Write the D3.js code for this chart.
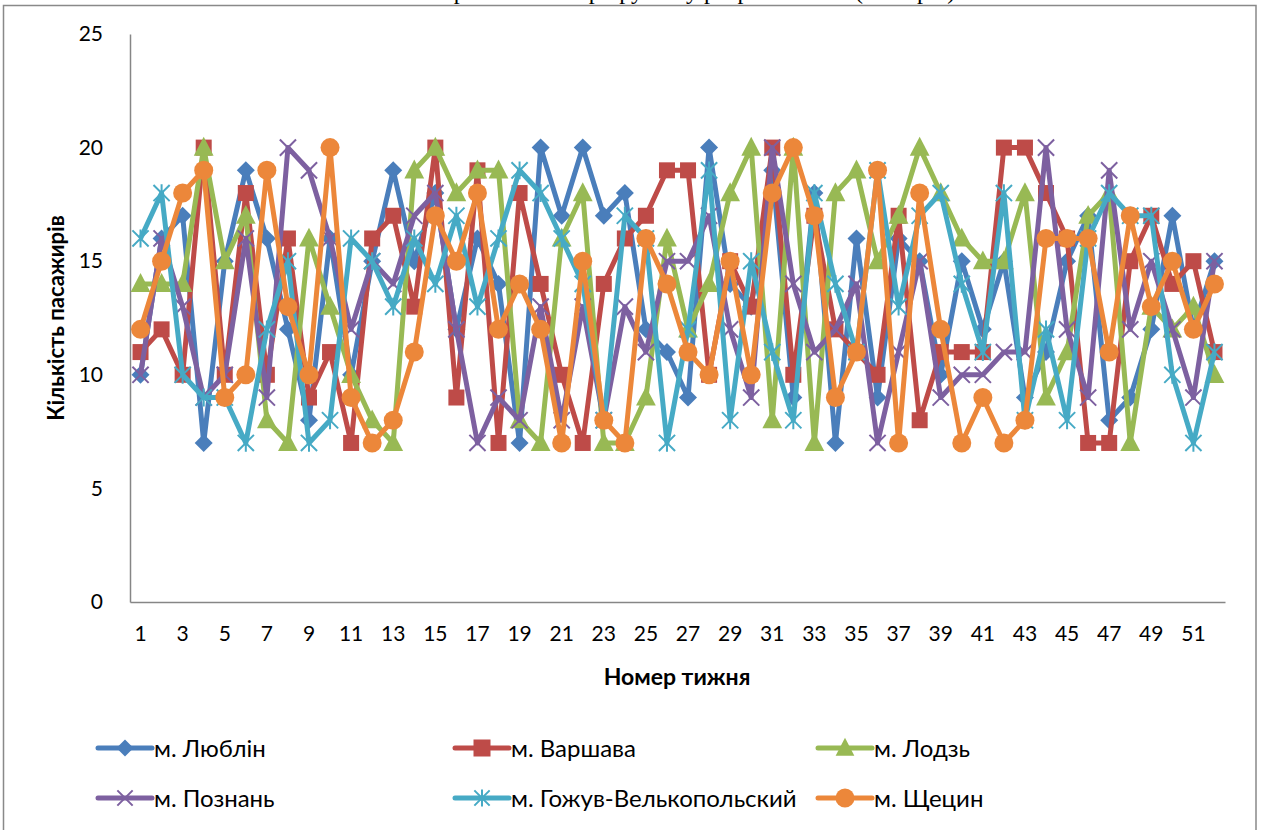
<!DOCTYPE html>
<html>
<head>
<meta charset="utf-8">
<script src="https://cdn.jsdelivr.net/npm/d3@7"></script>
<style>
  body { margin: 0; background: #fff; }
  text { font-family: Lato, "Open Sans", sans-serif; }
</style>
</head>
<body>
<script>
// weeks 1..52
var weeks = d3.range(1, 53);
var xTickLabels = d3.range(1, 53, 2);
var yTicks = [0, 5, 10, 15, 20, 25];

var names = ["м. Люблін", "м. Варшава", "м. Лодзь", "м. Познань", "м. Гожув-Велькопольский", "м. Щецин"];

var lublin = [10,16,17,7,15,19,16,12,8,16, 10,15,19,15,18,12,16,14,7,20, 17,20,17,18,12,11,9,20,14,13, 19,9,18,7,16,9,16,15,10,15, 12,15,9,11,15,17,8,9,12,17, 12,15];
var warsaw = [11,12,10,20,10,18,10,16,9,11, 7,16,17,13,20,9,19,7,18,14, 10,7,14,16,17,19,19,10,15,13, 20,10,17,12,11,10,17,8,11,11, 11,20,20,18,16,7,7,15,17,14, 15,11];
var lodz = [14,14,14,20,15,17,8,7,16,13, 10,8,7,19,20,18,19,19,8,7, 16,18,7,7,9,16,12,14,18,20, 8,20,7,18,19,15,17,20,18,16, 15,15,18,9,11,17,18,7,13,12, 13,10];
var poznan = [10,16,13,9,10,16,9,20,19,16, 12,15,14,17,18,12,7,9,8,13, 8,13,8,13,11,15,15,17,12,9, 20,14,11,12,14,7,11,15,9,10, 10,11,11,20,12,9,19,12,15,12, 9,15];
var gorzow = [16,18,10,9,9,7,12,15,7,8, 16,15,13,16,14,17,13,16,19,18, 16,14,8,17,16,7,12,19,8,15, 11,8,18,14,11,19,13,17,18,14, 11,18,8,12,8,16,18,17,17,10, 7,11];
var szczecin = [12,15,18,19,9,10,19,13,10,20, 9,7,8,11,17,15,18,12,14,12, 7,15,8,7,16,14,11,10,15,10, 18,20,17,9,11,19,7,18,12,7, 9,7,8,16,16,16,11,17,13,15, 12,14];

var colors = ["#4A7EBB", "#BE4B48", "#98B954", "#7D60A0", "#46AAC5", "#EC873A"];
var markers = ["diamond", "square", "triangle", "x", "star", "circle"];

var series = [lublin, warsaw, lodz, poznan, gorzow, szczecin].map(function(vals, i) {
  return { name: names[i], color: colors[i], marker: markers[i],
           values: vals.map(function(v, j) { return { week: weeks[j], value: v }; }) };
});

var svgWidth = 1265, svgHeight = 830;
var svg = d3.select("body").append("svg")
  .attr("width", svgWidth)
  .attr("height", svgHeight);

// outer chart frame (bottom is cut off in the picture)
svg.append("rect")
  .attr("x", 3.5).attr("y", 5.5)
  .attr("width", 1252.5).attr("height", 900)
  .attr("fill", "none")
  .attr("stroke", "#898989")
  .attr("stroke-width", 1.5);

// title, mostly above the visible area (only its lowest strokes show)
svg.append("text")
  .attr("x", 665).attr("y", -1)
  .attr("text-anchor", "middle")
  .style("font-family", "'Liberation Serif', serif")
  .style("font-size", "24px")
  .text("Пасажиропотік за маршрутом у розрізі тижнів (2013 рік)");

var x = d3.scaleBand().domain(weeks).range([130, 1225]);
var y = d3.scaleLinear().domain([0, 25]).range([602, 34]);
var cx = function(d) { return x(d.week) + x.bandwidth() / 2; };

// axes
var yAxis = svg.append("g")
  .attr("transform", "translate(130,0)")
  .call(d3.axisLeft(y).tickValues(yTicks).tickSize(0).tickPadding(27));
var xAxis = svg.append("g")
  .attr("transform", "translate(0,602)")
  .call(d3.axisBottom(x).tickValues(xTickLabels).tickSize(0).tickPadding(24));

[yAxis, xAxis].forEach(function(a) {
  a.select(".domain").attr("stroke", "#868686").attr("stroke-width", 1.5);
  a.selectAll("text").style("font-size", "21px").attr("fill", "#000")
    .style("font-family", "Lato, sans-serif");
});

svg.append("text")
  .attr("transform", "rotate(-90)")
  .attr("x", -318).attr("y", 64)
  .attr("text-anchor", "middle")
  .style("font-size", "22px").style("font-weight", "bold")
  .text("Кількість пасажирів");

svg.append("text")
  .attr("x", 677).attr("y", 685)
  .attr("text-anchor", "middle")
  .style("font-size", "23px").style("font-weight", "bold")
  .text("Номер тижня");

// marker drawing
function drawMarker(sel, type, color, s) {
  if (type === "diamond") {
    sel.append("path").attr("d", d3.symbol().type(d3.symbolSquare).size(s * s * 0.5)())
      .attr("fill", color).attr("transform", "rotate(45)");
  } else if (type === "square") {
    sel.append("rect").attr("x", -s / 2).attr("y", -s / 2).attr("width", s).attr("height", s)
      .attr("fill", color);
  } else if (type === "triangle") {
    sel.append("path").attr("d", "M0," + (-s * 0.6) + "L" + (s * 0.55) + "," + (s * 0.45) + "L" + (-s * 0.55) + "," + (s * 0.45) + "Z")
      .attr("fill", color);
  } else if (type === "x") {
    var r = s * 0.45;
    sel.append("path").attr("d", "M" + (-r) + "," + (-r) + "L" + r + "," + r + "M" + (-r) + "," + r + "L" + r + "," + (-r))
      .attr("stroke", color).attr("stroke-width", 2).attr("fill", "none");
  } else if (type === "star") {
    var r2 = s * 0.45;
    sel.append("path").attr("d", "M" + (-r2) + "," + (-r2) + "L" + r2 + "," + r2 + "M" + (-r2) + "," + r2 + "L" + r2 + "," + (-r2) + "M0," + (-r2 * 1.1) + "L0," + (r2 * 1.1))
      .attr("stroke", color).attr("stroke-width", 2).attr("fill", "none");
  } else {
    sel.append("circle").attr("r", s / 2).attr("fill", color);
  }
}

var line = d3.line().x(cx).y(function(d) { return y(d.value); });

series.forEach(function(s) {
  var g = svg.append("g");
  g.append("path")
    .datum(s.values)
    .attr("d", line)
    .attr("fill", "none")
    .attr("stroke", s.color)
    .attr("stroke-width", 5)
    .attr("stroke-linejoin", "round");
  var size = s.marker === "circle" ? 19 : (s.marker === "square" ? 16 : 18);
  g.selectAll("g.m")
    .data(s.values)
    .enter()
    .append("g")
    .attr("class", "m")
    .attr("transform", function(d) { return "translate(" + cx(d) + "," + y(d.value) + ")"; })
    .each(function() { drawMarker(d3.select(this), s.marker, s.color, size); });
});

// legend
var legendCols = [98, 455, 818];
var legendRows = [748, 798];
series.forEach(function(s, i) {
  var lx = legendCols[i % 3], ly = legendRows[Math.floor(i / 3)];
  var g = svg.append("g").attr("transform", "translate(" + lx + "," + ly + ")");
  g.append("line").attr("x1", 0).attr("x2", 54).attr("y1", 0).attr("y2", 0)
    .attr("stroke", s.color).attr("stroke-width", 5).attr("stroke-linecap", "round");
  var m = g.append("g").attr("transform", "translate(27,0)");
  drawMarker(m, s.marker, s.color, s.marker === "circle" ? 19 : 17);
  g.append("text").attr("x", 56).attr("y", 0).attr("dy", "0.36em")
    .style("font-size", "24px")
    .text(s.name);
});
</script>
</body>
</html>
